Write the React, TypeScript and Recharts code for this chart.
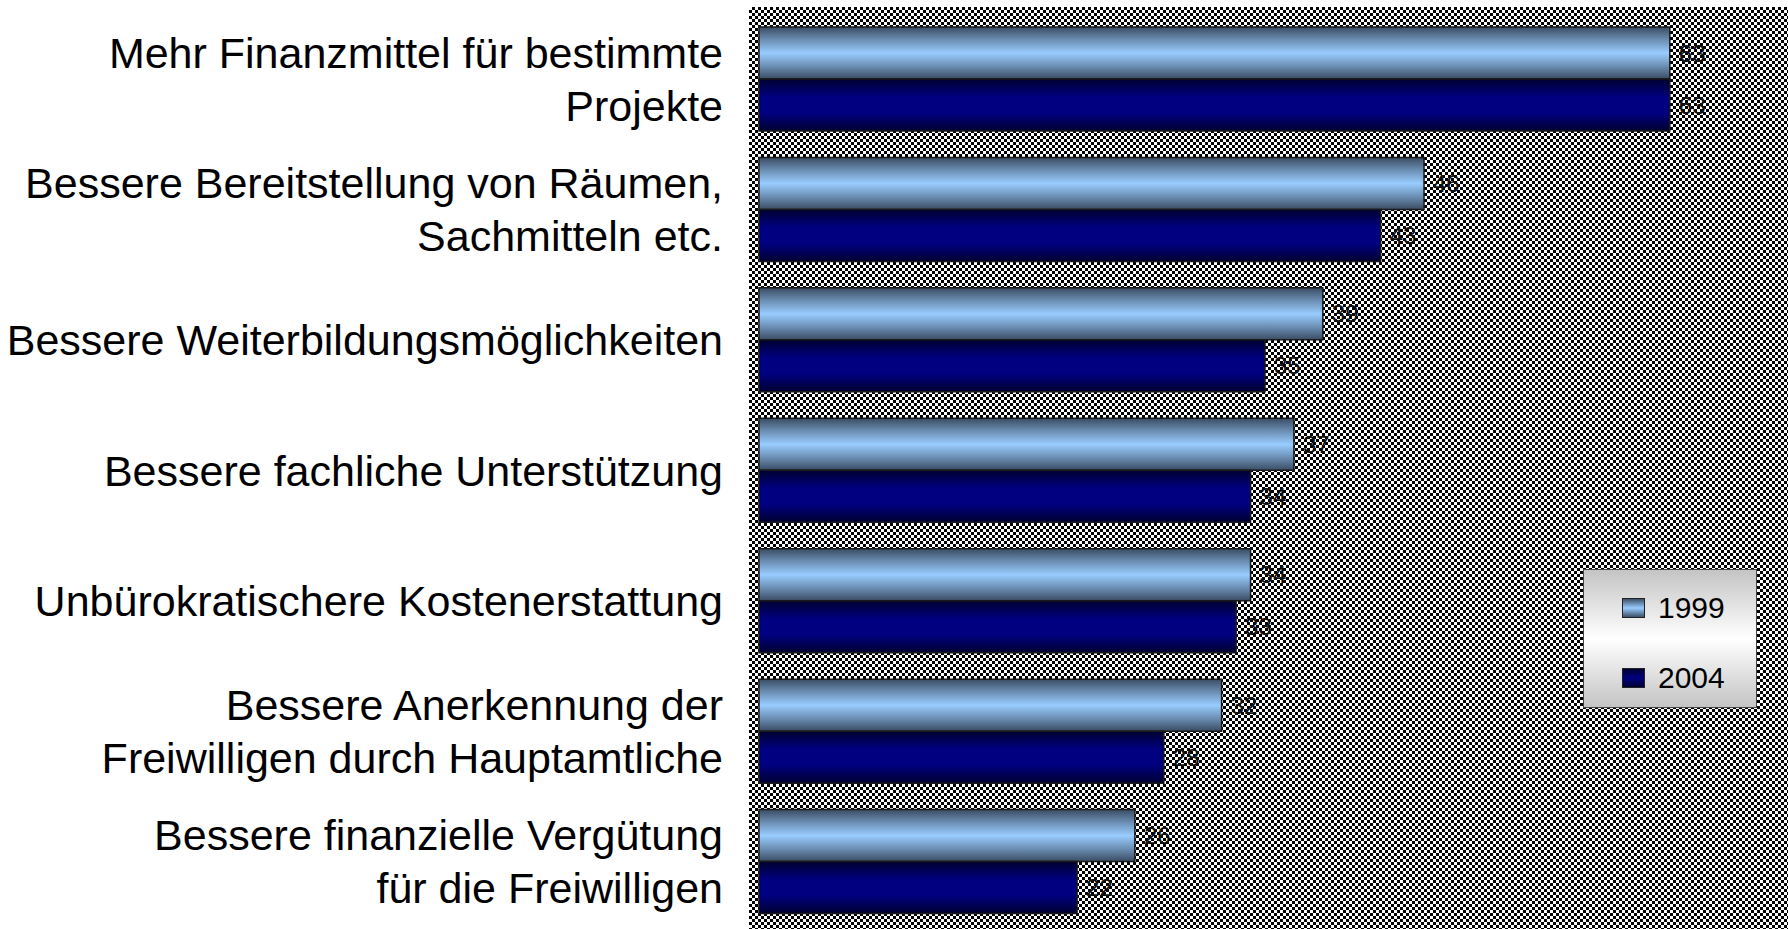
import React from "react";
import { BarChart, Bar, XAxis, YAxis, LabelList, Legend } from "recharts";

const categories = [
  ["Mehr Finanzmittel für bestimmte", "Projekte"],
  ["Bessere Bereitstellung von Räumen,", "Sachmitteln etc."],
  ["Bessere Weiterbildungsmöglichkeiten"],
  ["Bessere fachliche Unterstützung"],
  ["Unbürokratischere Kostenerstattung"],
  ["Bessere Anerkennung der", "Freiwilligen durch Hauptamtliche"],
  ["Bessere finanzielle Vergütung", "für die Freiwilligen"],
];
const values1999 = [63, 46, 39, 37, 34, 32, 26];
const values2004 = [63, 43, 35, 34, 33, 28, 22];
const seriesNames = ["1999", "2004"];

const data = categories.map((lines, i) => ({
  name: lines.join("\n"),
  y1999: values1999[i],
  y2004: values2004[i],
}));

const FONT = "'Liberation Sans', Arial, sans-serif";

function CategoryTick(props: any) {
  const { x, y, payload } = props;
  const lines = String(payload.value).split("\n");
  const lh = 53;
  const start = -((lines.length - 1) * lh) / 2;
  return (
    <text x={x} y={y} textAnchor="end" fontFamily={FONT} fontSize={43} fill="#000">
      {lines.map((l, i) => (
        <tspan key={i} x={x} dy={i === 0 ? start + 15 : lh}>
          {l}
        </tspan>
      ))}
    </text>
  );
}

const swatch = [
  "linear-gradient(#3d5068, #99ccff 50%, #3d5068)",
  "linear-gradient(#000033, #000080 50%, #000033)",
];

function LegendBox() {
  return (
    <div
      style={{
        width: 172,
        height: 137,
        border: "1.5px solid #444",
        background: "linear-gradient(#c4c4c4, #ffffff 50%, #c4c4c4)",
        position: "relative",
        fontFamily: FONT,
        fontSize: 30,
        color: "#000",
      }}
    >
      {seriesNames.map((s, i) => (
        <div
          key={s}
          style={{ position: "absolute", left: 38, top: 20 + i * 70, display: "flex", alignItems: "center", height: 36 }}
        >
          <span
            style={{
              display: "inline-block",
              width: 21,
              height: 18,
              border: "1px solid #222",
              background: swatch[i],
              marginRight: 13,
            }}
          />
          <span>{s}</span>
        </div>
      ))}
    </div>
  );
}

export default function App() {
  return (
    <div style={{ position: "absolute", left: 0, top: 0, width: 1788, height: 929, background: "#fff" }}>
      <div
        style={{
          position: "absolute",
          left: 749,
          top: 7,
          width: 1039,
          height: 922,
          background: "repeating-conic-gradient(#000 0 25%, #fff 0 50%) 0 0 / 6px 6px",
        }}
      />
      <BarChart
        width={1788}
        height={929}
        data={data}
        layout="vertical"
        margin={{ top: 14, right: 17, bottom: 2, left: 0 }}
        barGap={0}
        style={{ position: "absolute", left: 0, top: 0 }}
      >
        <defs>
          <linearGradient id="g1999" x1="0" y1="0" x2="0" y2="1">
            <stop offset="0%" stopColor="#3a4c63" />
            <stop offset="25%" stopColor="#6c8fb4" />
            <stop offset="50%" stopColor="#99ccff" />
            <stop offset="75%" stopColor="#6c8fb4" />
            <stop offset="100%" stopColor="#3a4c63" />
          </linearGradient>
          <linearGradient id="g2004" x1="0" y1="0" x2="0" y2="1">
            <stop offset="0%" stopColor="#000030" />
            <stop offset="35%" stopColor="#000080" />
            <stop offset="65%" stopColor="#000080" />
            <stop offset="100%" stopColor="#000030" />
          </linearGradient>
        </defs>
        <XAxis type="number" domain={[0, 70]} hide />
        <YAxis
          type="category"
          dataKey="name"
          width={759}
          axisLine={false}
          tickLine={false}
          tickSize={0}
          tickMargin={36}
          tick={<CategoryTick />}
          interval={0}
        />
        <Legend
          layout="vertical"
          align="center"
          verticalAlign="middle"
          wrapperStyle={{ position: "absolute", left: 1583, top: 569, width: 175 }}
          content={() => <LegendBox />}
        />
        <Bar
          dataKey="y1999"
          name={seriesNames[0]}
          fill="url(#g1999)"
          stroke="#1a1a1a"
          strokeWidth={1.5}
          barSize={52}
          isAnimationActive={false}
        >
          <LabelList dataKey="y1999" position="right" offset={9} fontSize={24} fill="#111" fontFamily={FONT} />
        </Bar>
        <Bar
          dataKey="y2004"
          name={seriesNames[1]}
          fill="url(#g2004)"
          stroke="#1a1a1a"
          strokeWidth={1.5}
          barSize={52}
          isAnimationActive={false}
        >
          <LabelList dataKey="y2004" position="right" offset={9} fontSize={24} fill="#111" fontFamily={FONT} />
        </Bar>
      </BarChart>
    </div>
  );
}
